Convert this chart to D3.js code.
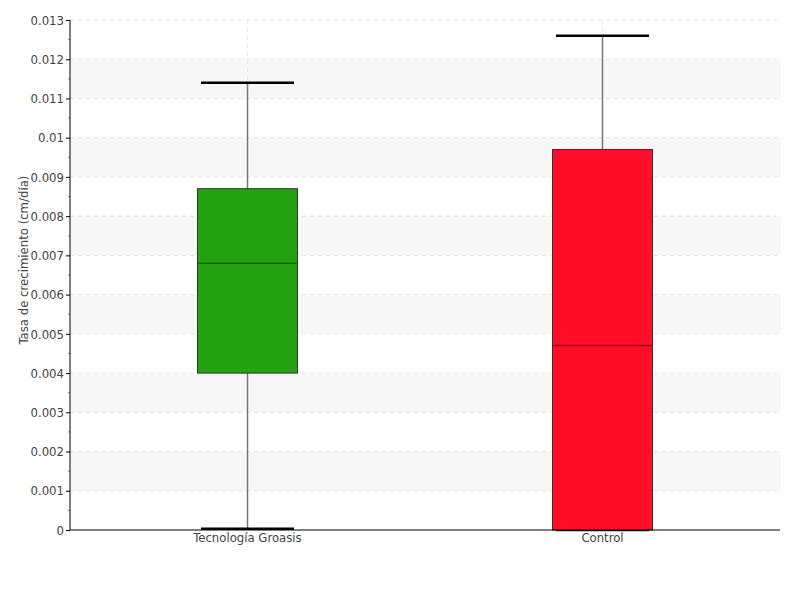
<!DOCTYPE html>
<html><head><meta charset="utf-8">
<script src="https://cdn.jsdelivr.net/npm/d3@7"></script>
<style>
body{margin:0;background:#fff;}
text{font-family:"DejaVu Sans Condensed","DejaVu Sans",sans-serif;font-stretch:condensed;fill:#444;}
</style></head><body>
<svg id="c" width="800" height="600"></svg>
<script>
const categories = ["Tecnología Groasis", "Control"];
const mins = [0.00003, 0];
const q1s = [0.0040, 0];
const medians = [0.0068, 0.0047];
const q3s = [0.0087, 0.0097];
const maxs = [0.0114, 0.0126];
const colors = ["#22a30f", "#ff0d29"];
const strokes = ["#1a5a10", "#7a0f1a"];
const yTicks = [0,0.001,0.002,0.003,0.004,0.005,0.006,0.007,0.008,0.009,0.01,0.011,0.012,0.013];
const yTitle = "Tasa de crecimiento (cm/día)";

const svg = d3.select("#c");
const L = 70, R = 780, T = 20, B = 530;
const y = d3.scaleLinear().domain([0, 0.013]).range([B, T]);
const x = d3.scaleBand().domain(categories).range([L, R]);
const boxW = 100, capW = 95;

const bands = svg.append("g");
for (let i = 1; i < yTicks.length - 1; i += 2) {
  bands.append("rect").attr("x", L).attr("width", R + 1 - L)
    .attr("y", y(yTicks[i+1])).attr("height", y(yTicks[i]) - y(yTicks[i+1]))
    .attr("fill", "#f7f7f7");
}
svg.append("g").selectAll("line").data(yTicks.slice(1)).join("line")
  .attr("x1", L).attr("x2", R - 3).attr("y1", d => y(d)).attr("y2", d => y(d))
  .attr("stroke", "#e2e2e2").attr("stroke-dasharray", "4,4");
svg.append("g").selectAll("line").data(categories).join("line")
  .attr("x1", d => x(d) + x.bandwidth()/2).attr("x2", d => x(d) + x.bandwidth()/2)
  .attr("y1", T).attr("y2", B)
  .attr("stroke", "#e8e8e8").attr("stroke-dasharray", "4,4");

const data = categories.map((c, i) => ({c, min: mins[i], q1: q1s[i], med: medians[i], q3: q3s[i], max: maxs[i], col: colors[i], st: strokes[i]}));
const g = svg.append("g").selectAll("g").data(data).join("g")
  .attr("transform", d => `translate(${x(d.c) + x.bandwidth()/2},0)`);
g.append("line").attr("x1", 0).attr("x2", 0)
  .attr("y1", d => y(d.max)).attr("y2", d => y(d.min))
  .attr("stroke", "#777").attr("stroke-width", 1.5);
g.append("line").attr("x1", -capW/2 + 1).attr("x2", capW/2 - 1)
  .attr("y1", d => y(d.max)).attr("y2", d => y(d.max))
  .attr("stroke", "#000").attr("stroke-width", 2.5);
g.append("line").attr("x1", -capW/2 + 1).attr("x2", capW/2 - 1)
  .attr("y1", d => y(d.min)).attr("y2", d => y(d.min))
  .attr("stroke", "#000").attr("stroke-width", 2.5);
g.append("rect").attr("x", -boxW/2).attr("width", boxW)
  .attr("y", d => y(d.q3)).attr("height", d => y(d.q1) - y(d.q3))
  .attr("fill", d => d.col).attr("stroke", "#333").attr("stroke-width", 1);
g.append("line").attr("x1", -boxW/2 + 1).attr("x2", boxW/2 - 1)
  .attr("y1", d => y(d.med)).attr("y2", d => y(d.med))
  .attr("stroke", d => d.st).attr("stroke-width", 1.5);

svg.append("g").selectAll("line").data(yTicks.slice(0, -1)).join("line")
  .attr("x1", L - 2).attr("x2", L).attr("y1", d => y(d + 0.0005)).attr("y2", d => y(d + 0.0005))
  .attr("stroke", "#ff5555").attr("stroke-width", 1);

const yAxis = svg.append("g").attr("transform", `translate(${L},0)`)
  .call(d3.axisLeft(y).tickValues(yTicks).tickFormat(d => String(+d.toFixed(3))).tickSize(4).tickPadding(2));
yAxis.select(".domain").attr("stroke", "#000").attr("d", `M0,${T}V${B}`);
yAxis.selectAll(".tick line").attr("stroke", "#000");
yAxis.selectAll("text").attr("font-size", 13).style("fill", "#444");

const xAxis = svg.append("g").attr("transform", `translate(0,${B})`)
  .call(d3.axisBottom(x).tickSize(0).tickPadding(3));
xAxis.select(".domain").attr("stroke", "#000").attr("d", `M${L},0H${R}`);
xAxis.selectAll("text").attr("font-size", 13).style("fill", "#444");
svg.selectAll(".tick text").attr("font-family", null);

svg.append("text").attr("transform", `translate(28,${(T+B)/2 - 15}) rotate(-90)`)
  .attr("text-anchor", "middle").attr("font-size", 13).text(yTitle);
</script></body></html>
